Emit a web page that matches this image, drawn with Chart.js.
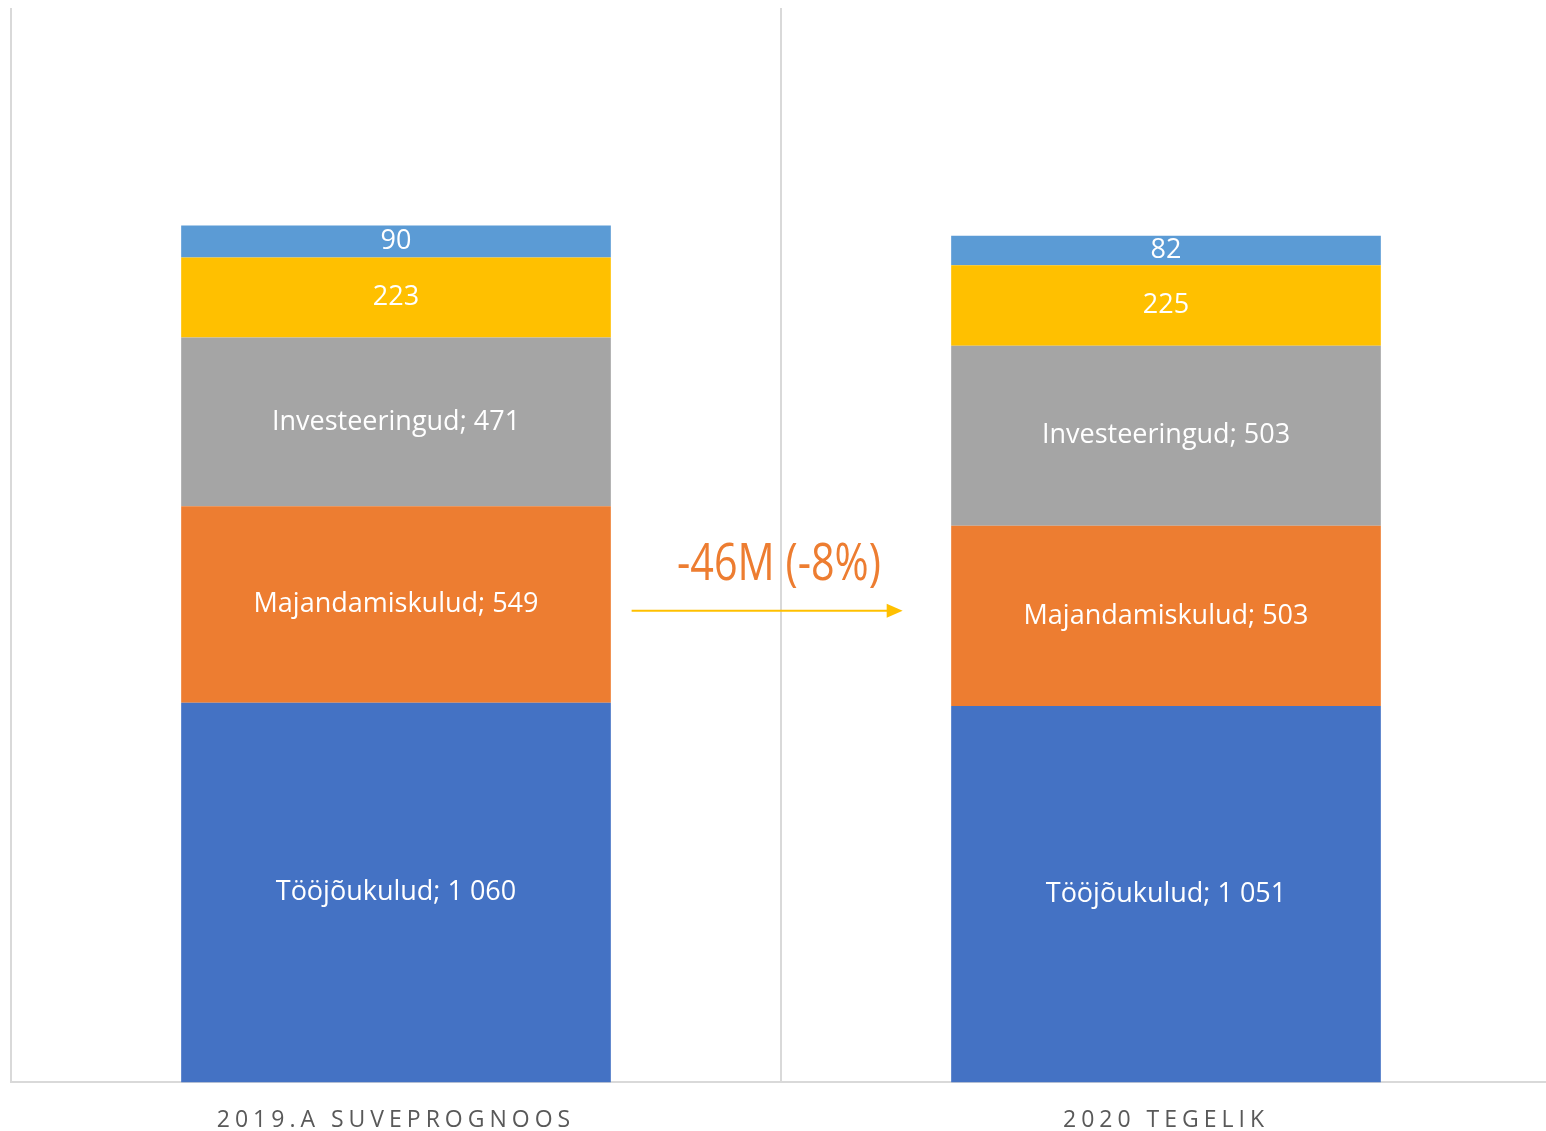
<!DOCTYPE html>
<html>
<head>
<meta charset="utf-8">
<script src="https://cdn.jsdelivr.net/npm/chart.js@4"></script>
<style>
  html, body { margin: 0; padding: 0; background: #fff; overflow: hidden; }
  #wrap { width: 1546px; height: 1131px; overflow: hidden; }
</style>
</head>
<body>
<div id="wrap"><canvas id="chart" width="1556" height="1158"></canvas></div>
<script>
// andmed (mln eurot)
const categories = ['2019.A SUVEPROGNOOS', '2020 TEGELIK'];
const seriesNames = ['Tööjõukulud', 'Majandamiskulud', 'Investeeringud', 'Sari 4', 'Sari 5'];
const toojoukulud = [1060, 1051];
const majandamiskulud = [549, 503];
const investeeringud = [471, 503];
const sari4 = [223, 225];
const sari5 = [90, 82];
const yTicks = [0, 3000];
const changeText = '-46M (-8%)';

const colors = ['#4472C4', '#ED7D31', '#A5A5A5', '#FFC000', '#5B9BD5'];
const allSeries = [toojoukulud, majandamiskulud, investeeringud, sari4, sari5];

// 1 060 stiilis numbrid
const fmt = (v) => String(v).replace(/\B(?=(\d{3})+(?!\d))/g, ' ');

// sildid ribade sisse
const barLabels = {
  id: 'barLabels',
  afterDatasetsDraw(chart) {
    const ctx = chart.ctx;
    ctx.save();
    ctx.font = '27px "Open Sans", sans-serif';
    ctx.fillStyle = '#ffffff';
    ctx.textAlign = 'center';
    ctx.textBaseline = 'middle';
    chart.data.datasets.forEach((ds, i) => {
      chart.getDatasetMeta(i).data.forEach((el, j) => {
        const v = ds.data[j];
        const txt = i < 3 ? ds.label + '; ' + fmt(v) : fmt(v);
        ctx.fillText(txt, el.x, (el.y + el.base) / 2);
      });
    });
    ctx.restore();
  }
};

// muutus ja nool
const changeArrow = {
  id: 'changeArrow',
  afterDatasetsDraw(chart) {
    const ctx = chart.ctx;
    const x = chart.scales.x, y = chart.scales.y;
    const x0 = x.getPixelForValue(0.306);
    const x1 = x.getPixelForValue(0.658);
    const ya = y.getPixelForValue(1317);
    ctx.save();
    ctx.strokeStyle = '#FFC000';
    ctx.fillStyle = '#FFC000';
    ctx.lineWidth = 2;
    ctx.beginPath();
    ctx.moveTo(x0, ya);
    ctx.lineTo(x1 - 14, ya);
    ctx.stroke();
    ctx.beginPath();
    ctx.moveTo(x1, ya);
    ctx.lineTo(x1 - 16, ya - 7);
    ctx.lineTo(x1 - 16, ya + 7);
    ctx.closePath();
    ctx.fill();

    // kitsendatud kiri
    ctx.translate(x.getPixelForValue(0.5) - 2, y.getPixelForValue(1404));
    ctx.scale(0.81, 1);
    ctx.font = '51px "Open Sans", sans-serif';
    ctx.fillStyle = '#ED7D31';
    ctx.textAlign = 'center';
    ctx.textBaseline = 'alphabetic';
    ctx.fillText(changeText, 0, 0);
    ctx.restore();
  }
};

// tähevahe x-telje siltidele
const spacing = {
  id: 'spacing',
  beforeDraw(chart) { chart.ctx.letterSpacing = '5px'; },
  beforeDatasetsDraw(chart) { chart.ctx.letterSpacing = '0px'; }
};

new Chart(document.getElementById('chart'), {
  type: 'bar',
  data: {
    labels: categories,
    datasets: allSeries.map((d, i) => ({
      label: seriesNames[i],
      data: d,
      backgroundColor: colors[i],
      borderWidth: 0,
      barPercentage: 1,
      categoryPercentage: 0.558
    }))
  },
  options: {
    responsive: false,
    animation: false,
    layout: { padding: { top: 8, left: 11, right: 5, bottom: 0 } },
    plugins: {
      legend: { display: false },
      tooltip: { enabled: false }
    },
    scales: {
      x: {
        stacked: true,
        grid: { offset: true, color: '#D9D9D9', lineWidth: 2, drawTicks: false },
        border: { display: true, color: '#D9D9D9', width: 2 },
        ticks: {
          padding: 24,
          color: '#595959',
          font: { family: '"Open Sans", sans-serif', size: 23 }
        }
      },
      y: {
        stacked: true,
        display: false,
        min: yTicks[0],
        max: yTicks[1]
      }
    }
  },
  plugins: [barLabels, changeArrow, spacing]
});
</script>
</body>
</html>
